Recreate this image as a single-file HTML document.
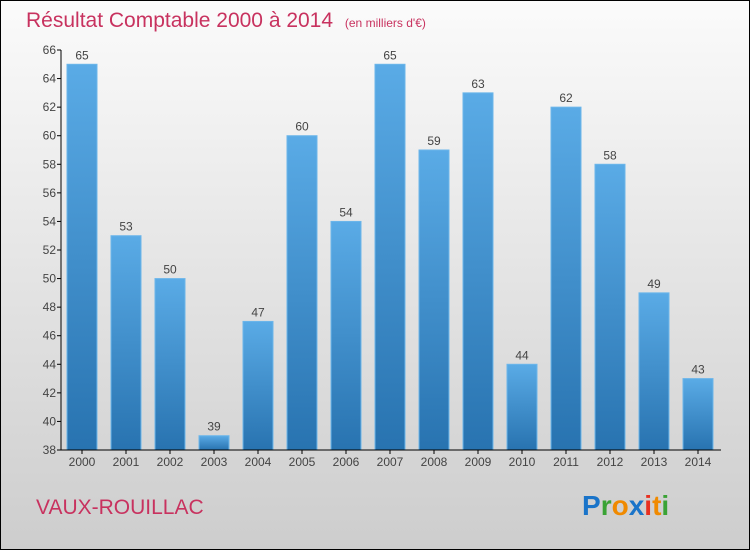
<!DOCTYPE html>
<html><head><meta charset="utf-8"><style>
body{margin:0;width:750px;height:550px;overflow:hidden;font-family:"Liberation Sans",sans-serif}
</style></head><body>
<svg width="750" height="550" xmlns="http://www.w3.org/2000/svg">
<defs>
<linearGradient id="bg" x1="0" y1="0" x2="0" y2="1"><stop offset="0" stop-color="#fbfbfb"/><stop offset="1" stop-color="#cdcdcd"/></linearGradient>
<linearGradient id="bar" x1="0" y1="0" x2="0" y2="1"><stop offset="0" stop-color="#5aabe6"/><stop offset="1" stop-color="#2873b0"/></linearGradient>
</defs>
<rect x="0.5" y="0.5" width="749" height="549" fill="url(#bg)" stroke="#000"/>
<text x="26" y="27" font-size="21" fill="#c8325f">Résultat Comptable 2000 à 2014 <tspan font-size="12" dx="6">(en milliers d'€)</tspan></text>
<g id="plot"></g>
<text x="36" y="514" font-size="21" fill="#c8325f">VAUX-ROUILLAC</text>
<g font-size="28" font-weight="bold" font-family="Liberation Sans,sans-serif">
<text x="582" y="515"><tspan fill="#1a74c9">P</tspan><tspan fill="#3aa335">r</tspan><tspan fill="#f08a00">o</tspan><tspan fill="#1a74c9">x</tspan><tspan fill="#e83020">i</tspan><tspan fill="#f08a00">t</tspan><tspan fill="#3aa335">i</tspan></text>
</g>
</svg>
<script>
const years=["2000","2001","2002","2003","2004","2005","2006","2007","2008","2009","2010","2011","2012","2013","2014"];
const values=[65,53,50,39,47,60,54,65,59,63,44,62,58,49,43];
const yTicks=[38,40,42,44,46,48,50,52,54,56,58,60,62,64,66];
const NS="http://www.w3.org/2000/svg";
const plotG=document.getElementById('plot');
const yMin=38,yMax=66,pTop=50,pBot=450,pLeft=61,pRight=721;
const yS=v=>pBot-(v-yMin)/(yMax-yMin)*(pBot-pTop);
const xc=i=>82+i*44;
function mk(t,a,txt){const e=document.createElementNS(NS,t);for(const k in a)e.setAttribute(k,a[k]);if(txt!==undefined)e.textContent=txt;plotG.appendChild(e);return e;}
yTicks.forEach(v=>{
 const l=mk('line',{x1:pLeft-4,x2:pLeft,y1:yS(v),y2:yS(v),stroke:'#000'});
 
 
 const t=mk('text',{x:pLeft-5,y:yS(v)+4,'text-anchor':'end','font-size':12,fill:'#444'},v);
 
 
});
values.forEach((v,i)=>{
 const r=mk('rect',{x:xc(i)-15,y:yS(v),width:30,height:pBot-yS(v),fill:'url(#bar)',stroke:'#6cb6ea','stroke-width':1});
 
 
 const t=mk('text',{x:xc(i),y:yS(v)-5,'text-anchor':'middle','font-size':12,fill:'#444'},v);
 
 
 const tk=mk('line',{x1:xc(i),x2:xc(i),y1:pBot,y2:pBot+4,stroke:'#000'});
 
 
 const xl=mk('text',{x:xc(i),y:pBot+16,'text-anchor':'middle','font-size':12,fill:'#444'},years[i]);
 
 
});
const ya=mk('line',{x1:pLeft,x2:pLeft,y1:pTop,y2:pBot,stroke:'#000'});


const xa=mk('line',{x1:pLeft,x2:pRight,y1:pBot,y2:pBot,stroke:'#000'});


</script>
</body></html>
